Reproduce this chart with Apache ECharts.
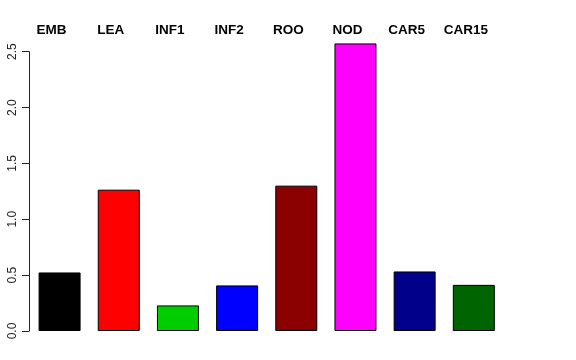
<!DOCTYPE html>
<html>
<head>
<meta charset="utf-8">
<script src="https://cdn.jsdelivr.net/npm/echarts@6/dist/echarts.min.js"></script>
<style>html,body{margin:0;padding:0;background:#fff}#c{width:576px;height:360px}</style>
</head>
<body>
<div id="c"></div>
<script>
const categories = ["EMB", "LEA", "INF1", "INF2", "ROO", "NOD", "CAR5", "CAR15"];
const values = [0.524, 1.265, 0.229, 0.408, 1.301, 2.574, 0.533, 0.413];
const barColors = ["#000000", "#FF0000", "#00CD00", "#0000FF", "#8B0000", "#FF00FF", "#00008B", "#006400"];
const yTicks = [0, 0.5, 1.0, 1.5, 2.0, 2.5];

const chart = echarts.init(document.getElementById('c'), null, {renderer: 'canvas'});
chart.setOption({
  animation: false,
  backgroundColor: '#fff',
  grid: {left: 30, right: 72.6, top: 51.7, bottom: 29, containLabel: false},
  xAxis: {
    type: 'category',
    position: 'top',
    data: categories,
    axisLine: {show: false},
    axisTick: {show: false},
    axisLabel: {
      interval: 0,
      fontFamily: 'Liberation Sans',
      fontWeight: 'bold',
      fontSize: 13.5,
      color: '#000',
      margin: 14,
      padding: [0, 16, 0, 0]
    }
  },
  yAxis: {
    type: 'value',
    min: yTicks[0],
    max: yTicks[yTicks.length - 1],
    interval: 0.5,
    offset: 1,
    splitLine: {show: false},
    axisLine: {show: true, lineStyle: {color: '#222', width: 1}},
    axisTick: {show: true, length: 7, lineStyle: {color: '#222', width: 1}},
    axisLabel: {
      rotate: 90,
      margin: 10,
      align: 'center',
      verticalAlign: 'bottom',
      fontFamily: 'Liberation Sans',
      fontSize: 12,
      color: '#222',
      formatter: v => v.toFixed(1)
    }
  },
  series: [{
    type: 'bar',
    clip: false,
    barWidth: 42,
    data: values.map((v, i) => ({value: v, itemStyle: {color: barColors[i]}})),
    itemStyle: {borderColor: '#000', borderWidth: 1}
  }]
});
</script>
</body>
</html>
